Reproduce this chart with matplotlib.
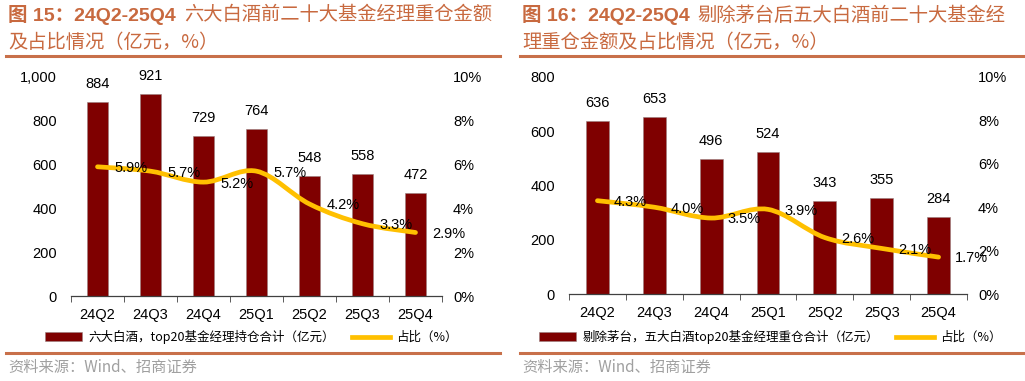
import matplotlib
matplotlib.use("Agg")
import matplotlib.pyplot as plt
import numpy as np
from matplotlib.path import Path
from matplotlib.patches import PathPatch
from matplotlib.lines import Line2D
from matplotlib.ticker import FuncFormatter

plt.rcParams['font.family'] = ['Liberation Sans', 'Noto Sans CJK SC', 'DejaVu Sans']

# data
quarters = ['24Q2', '24Q3', '24Q4', '25Q1', '25Q2', '25Q3', '25Q4']
hold_six = [884, 921, 729, 764, 548, 558, 472]        # 亿元
pct_six = [5.9, 5.7, 5.2, 5.7, 4.2, 3.3, 2.9]          # %
hold_five = [636, 653, 496, 524, 343, 355, 284]       # 亿元
pct_five = [4.3, 4.0, 3.5, 3.9, 2.6, 2.1, 1.7]         # %

W, H = 1025, 381
BAR_C = '#7F0000'
LINE_C = '#FFC000'
TITLE_C = '#C8693F'
RULE_C = '#C8704A'
CJK = ['Noto Sans CJK SC', 'DejaVu Sans']

fig = plt.figure(figsize=(W / 100, H / 100), dpi=100)


def fx(px):
    return px / W


def fy(py):
    return 1 - py / H


def smooth_path(xs, ys):
    # excel-like smoothed line as cubic bezier segments through the points
    pts = np.column_stack([xs, ys]).astype(float)
    n = len(pts)
    verts = [pts[0]]
    codes = [Path.MOVETO]
    for i in range(n - 1):
        p0 = pts[max(i - 1, 0)]
        p1 = pts[i]
        p2 = pts[i + 1]
        p3 = pts[min(i + 2, n - 1)]
        verts += [p1 + (p2 - p0) / 6, p2 - (p3 - p1) / 6, p2]
        codes += [Path.CURVE4] * 3
    return Path(verts, codes)


def title(x0, prefix, rest, line2):
    t = fig.text(fx(x0), fy(15), prefix, fontsize=14, fontweight='bold',
                 color=TITLE_C, va='center', ha='left')
    r = fig.canvas.get_renderer()
    bb = t.get_window_extent(renderer=r)
    fig.text((bb.x1 + 8) / W, fy(15), rest, fontsize=13.9, color=TITLE_C,
             va='center', ha='left', family=CJK)
    fig.text(fx(x0), fy(42), line2, fontsize=13.9, color=TITLE_C,
             va='center', ha='left', family=CJK)


def rules(x0, x1):
    for y in (56, 353):
        fig.add_artist(Line2D([fx(x0), fx(x1)], [fy(y), fy(y)], color=RULE_C, lw=2.2))


def panel(box, hold, pct, ymax, ystep, bar_lab, leg_center):
    l, r, t, b = box
    ax = fig.add_axes([fx(l), fy(b), fx(r - l), (b - t) / H])
    x = np.arange(len(quarters))
    bars = ax.bar(x, hold, width=0.4, color=BAR_C, edgecolor='#9a8080', lw=0.4,
                  label=bar_lab, zorder=2)
    for xi, v in zip(x, hold):
        ax.annotate(str(v), (xi, v), xytext=(0, 13), textcoords='offset points',
                    ha='center', va='center', fontsize=10.5)
    ax.set_xlim(-0.5, len(quarters) - 0.5)
    ax.set_ylim(0, ymax)
    ax.set_yticks(np.arange(0, ymax + 1, ystep))
    ax.yaxis.set_major_formatter(FuncFormatter(lambda v, p: f'{int(v):,}'))
    ax.set_xticks(x)
    ax.set_xticklabels(quarters)
    ax.set_xticks(np.arange(-0.5, len(quarters)), minor=True)
    ax.tick_params(axis='x', which='major', length=0, pad=9, labelsize=10.5)
    ax.tick_params(axis='x', which='minor', length=4, direction='out', color='#404040')
    ax.tick_params(axis='y', length=0, pad=10, labelsize=10.5)
    for s in ('top', 'left', 'right'):
        ax.spines[s].set_visible(False)
    ax.spines['bottom'].set_color('#404040')
    ax.spines['bottom'].set_linewidth(0.9)

    ax2 = ax.twinx()
    ax2.set_ylim(0, 10)
    ax2.set_yticks(np.arange(0, 11, 2))
    ax2.yaxis.set_major_formatter(FuncFormatter(lambda v, p: f'{int(v)}%'))
    ax2.tick_params(axis='y', length=0, pad=8, labelsize=10.5)
    for s in ('top', 'left', 'right', 'bottom'):
        ax2.spines[s].set_visible(False)
    patch = PathPatch(smooth_path(x, pct), fill=False, edgecolor=LINE_C, lw=3.4,
                      capstyle='round', zorder=3)
    ax2.add_patch(patch)
    for xi, v in zip(x, pct):
        ax2.annotate(f'{v:.1f}%', (xi, v), xytext=(12, -1), textcoords='offset points',
                     ha='left', va='center', fontsize=10.5, zorder=4)

    handles = [bars, Line2D([], [], color=LINE_C, lw=3.4)]
    labels = [bar_lab, '占比（%）']
    fig.legend(handles, labels, loc='center', bbox_to_anchor=(fx(leg_center), fy(337)),
               ncol=2, frameon=False, handlelength=3.0, handletextpad=0.5,
               columnspacing=1.4, prop={'family': CJK, 'size': 9})


panel((71, 442, 77, 296), hold_six, pct_six, 1000, 200,
      '六大白酒，top20基金经理持仓合计（亿元）', 251)
panel((569, 967, 77, 294), hold_five, pct_five, 800, 200,
      '剔除茅台，五大白酒top20基金经理重仓合计（亿元）', 770)

title(8, '图 15：24Q2-25Q4', '六大白酒前二十大基金经理重仓金额', '及占比情况（亿元，%）')
title(522, '图 16：24Q2-25Q4', '剔除茅台后五大白酒前二十大基金经', '理重仓金额及占比情况（亿元，%）')
rules(6, 500)
rules(520, 1023)

for x0 in (8, 522):
    fig.text(fx(x0), fy(367), '资料来源：Wind、招商证券', fontsize=11, color='#A0A0A0',
             va='center', ha='left', family=CJK)

fig.savefig('out.png', dpi=100)
